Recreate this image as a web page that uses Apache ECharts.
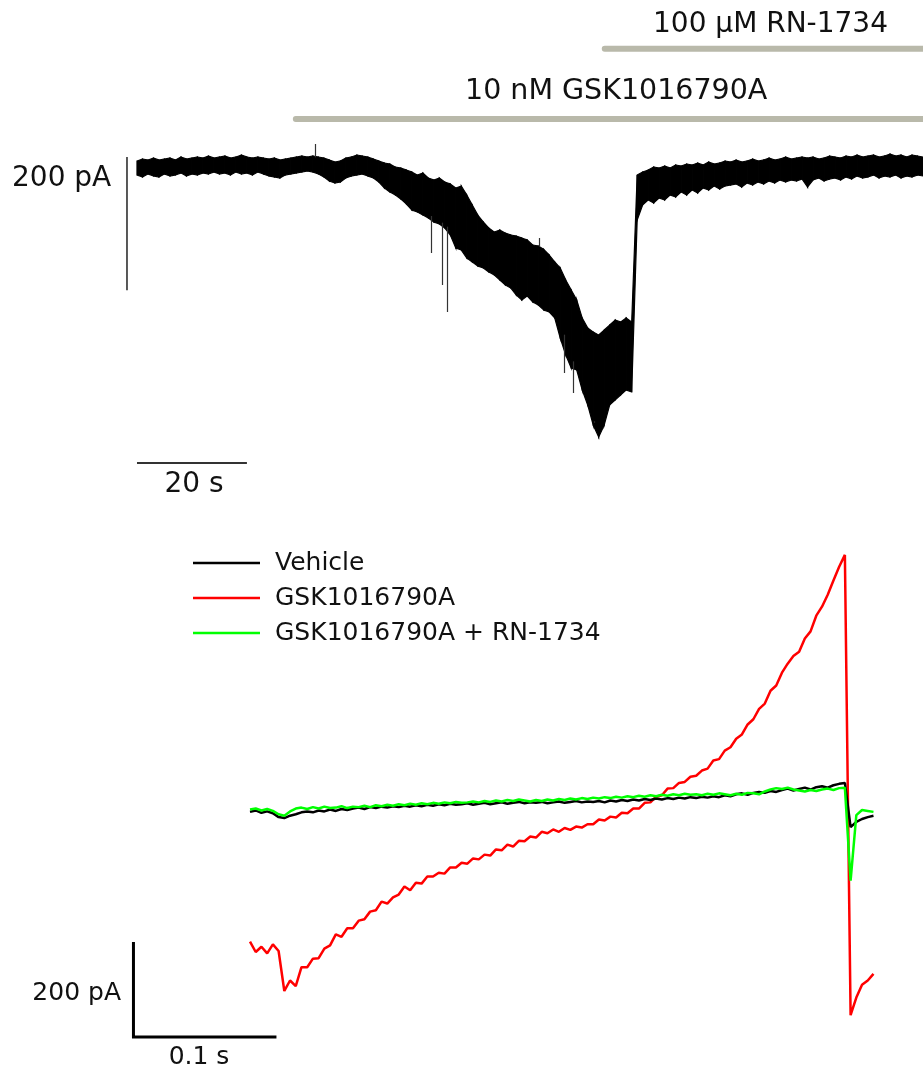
<!DOCTYPE html>
<html>
<head>
<meta charset="utf-8">
<script src="https://cdn.jsdelivr.net/npm/echarts@6/dist/echarts.min.js"></script>
<style>
html,body{margin:0;padding:0;background:#fff;}
#chart{width:923px;height:1071px;}
</style>
</head>
<body>
<div id="chart"></div>
<script>
// ---------- Top panel: holding current vs time (s), current in pA (relative to baseline) ----------
// noise envelope of the trace, read every 1 s (upper and lower edge of the noisy band)
const traceHi = [10.5,13.5,12,15,12,13.5,15,12,16.5,13.5,15,16.5,15,18,15,16.5,18,15,16.5,19.5,
16.5,15,16.5,15,13.5,15,12,13.5,15,16.5,18,16.5,18,16.5,15,12,9,10.5,15,16.5,
19.5,18,16.5,13.5,10.5,7.5,6,1.5,0,-3,-6,-10.5,-7.5,-15,-18,-15,-21,-24,-30,-27,
-40.5,-55.5,-70.5,-81,-90,-96,-93,-97.5,-100.5,-102,-105,-108,-115.5,-117,-122,-130.5,-141,-150,-168,-183,
-198,-225,-240,-246,-250.5,-243,-235.5,-228,-231,-225,-231,-10.5,-6,-3,1.5,0,3,0,4.5,3,
6,4.5,7.5,4.5,9,6,7.5,10.5,9,12,9,10.5,13.5,10.5,12,15,12,13.5,16.5,13.5,
15,16.5,15,16.5,13.5,15,18,16.5,15,18,16.5,19.5,16.5,18,19.5,16.5,18,21,18,19.5,
16.5,19.5,18,16.5];
const traceLo = [-10.5,-13.5,-9,-12,-13.5,-9,-12,-10.5,-7.5,-12,-9,-10.5,-7.5,-9,-6,-9,-7.5,-10.5,-6,-9,
-7.5,-10.5,-6,-9,-12,-13.5,-15,-10.5,-9,-7.5,-6,-4.5,-6,-9,-13.5,-19.5,-22.5,-21,-15,-12,
-10.5,-9,-12,-15,-21,-30,-36,-40.5,-46.5,-54,-63,-66,-70.5,-75,-81,-84,-90,-100.5,-120,-123,
-135,-141,-147,-150,-156,-160.5,-168,-175.5,-180,-190.5,-198,-192,-201,-205.5,-213,-216,-225,-255,-280.5,-300,
-303,-333,-355.5,-385.5,-403.5,-385.5,-355.5,-348,-340.5,-333,-336,-78,-55.5,-48,-52.5,-45,-48,-40.5,-43.5,-36,
-40.5,-33,-37.5,-30,-33,-27,-31.5,-27,-25.5,-24,-28.5,-22.5,-25.5,-21,-24,-19.5,-22.5,-18,-21,-18,
-19.5,-16.5,-28.5,-18,-15,-19.5,-16.5,-15,-18,-13.5,-16.5,-12,-15,-13.5,-10.5,-15,-12,-13.5,-10.5,-15,
-12,-13.5,-10.5,-12];
// isolated spikes: [time s, from pA, to pA]
const traceSpikes = [[32.5,16,36],[53.5,-72,-127.5],[55.6,-82,-175.5],[56.5,-88,-216],
[73.2,-118,-105],[77.8,-250,-307.5],[79.3,-290,-337.5],[83.2,-380,-382]];
const drugGsk = {name:'10 nM GSK1016790A', start:28.9, end:143, level:73.5};
const drugRn  = {name:'100 µM RN-1734',   start:85.1, end:143, level:179};

// ---------- Bottom panel: ramp currents, sampled every 4 ms (pA) ----------
const rampStep = 0.004;
const vehicle = [-25,-22,-27,-24,-28,-36,-38,-33,-30,-26,
-24,-26,-22,-24,-20,-23,-19,-21,-18,-16,
-19,-15,-17,-14,-16,-13,-15,-12,-14,-11,
-13,-10,-12,-9,-11,-8,-10,-9,-7,-10,
-8,-6,-9,-7,-5,-8,-6,-4,-7,-5,
-6,-4,-7,-5,-3,-6,-4,-2,-5,-3,
-4,-2,-5,-1,-3,0,-2,1,-1,2,
0,3,1,4,2,5,3,6,4,7,
5,8,6,10,8,12,14,11,15,17,
15,19,17,21,24,20,23,26,22,27,
29,26,31,34,36,-57,-46,-40,-36,-33];
const gsk = [-298,-320,-309,-323,-304,-318,-402,-380,-392,-352,
-352,-334,-333,-313,-306,-283,-288,-270,-270,-254,
-251,-235,-232,-214,-218,-205,-199,-182,-190,-174,
-176,-161,-161,-153,-155,-142,-142,-132,-134,-123,
-125,-115,-117,-104,-106,-94,-98,-86,-87,-77,
-79,-67,-70,-62,-67,-59,-63,-56,-58,-51,
-51,-41,-43,-35,-37,-27,-28,-18,-18,-6,
-5,7,10,24,25,36,38,49,51,62,
66,83,86,104,111,129,138,159,170,192,
203,230,241,268,287,303,312,340,355,388,
407,432,462,491,516,-453,-416,-389,-380,-366];
const gskRn = [-20,-18,-22,-19,-23,-30,-33,-24,-18,-16,
-19,-15,-18,-14,-17,-16,-13,-17,-14,-15,
-12,-15,-11,-13,-10,-12,-9,-11,-8,-10,
-7,-9,-6,-8,-5,-7,-4,-6,-5,-3,
-5,-2,-4,-1,-3,0,-2,1,-1,-3,
0,-2,1,-1,2,0,3,1,4,2,
5,3,6,4,7,5,8,6,9,7,
10,8,11,9,12,10,13,11,12,10,
13,11,14,12,10,13,11,15,14,12,
18,22,25,23,26,22,20,18,21,19,
22,24,21,25,26,-170,-32,-21,-23,-25];
const legendNames = ['Vehicle','GSK1016790A','GSK1016790A + RN-1734'];

// scale bars (data units)
const topBarV = {t:-1.82, from:16.5, to:-183.5};      // 200 pA
const topBarH = {level:-442.5, from:0, to:20};        // 20 s
const botBar = {t:-0.0815, from:-299, to:-499, tEnd:0.0185}; // 200 pA, 0.1 s

// ---------- build ----------
// one quad per 1-s segment of the noise band: [t0, hi0, lo0, t1, hi1, lo1]
const bandSegs = traceHi.slice(0, -1).map((v, i) => [i, v, traceLo[i], i + 1, traceHi[i + 1], traceLo[i + 1]]);
const spikeLines = traceSpikes.map(s => [{coord:[s[0], s[1]]}, {coord:[s[0], s[2]]}]);
const ramp = arr => arr.map((v, i) => [i * rampStep, v]);

const FONT = 'DejaVu Sans';
const chart = echarts.init(document.getElementById('chart'), null, {renderer:'canvas'});
chart.setOption({
  animation: false,
  backgroundColor: '#fff',
  grid: [
    {left:120.5, width:803, top:34.67, height:440},
    {left:128.45, width:750.75, top:543.5, height:503.5}
  ],
  xAxis: [
    {type:'value', gridIndex:0, min:-3, max:143, show:false},
    {type:'value', gridIndex:1, min:-0.085, max:0.44, show:false}
  ],
  yAxis: [
    {type:'value', gridIndex:0, min:-460, max:200, show:false},
    {type:'value', gridIndex:1, min:-520, max:540, show:false}
  ],
  legend: {
    data: legendNames,
    orient: 'vertical',
    left: 193, top: 550.5, padding: 0,
    itemWidth: 67, itemHeight: 2.5, itemGap: 10,
    icon: 'rect',
    textStyle: {fontFamily: FONT, fontSize: 25, color:'#111', lineHeight: 25, padding:[0,0,0,10]}
  },
  series: [
    {type:'line', name:'drugGsk', xAxisIndex:0, yAxisIndex:0, symbol:'none', silent:true,
     data:[[drugGsk.start, drugGsk.level],[drugGsk.end, drugGsk.level]],
     lineStyle:{color:'#b9b9aa', width:6, cap:'round'}},
    {type:'line', name:'drugRn', xAxisIndex:0, yAxisIndex:0, symbol:'none', silent:true,
     data:[[drugRn.start, drugRn.level],[drugRn.end, drugRn.level]],
     lineStyle:{color:'#b9b9aa', width:6, cap:'round'}},
    {type:'custom', name:'trace', xAxisIndex:0, yAxisIndex:0, silent:true,
     data: bandSegs,
     encode: {x:[0,3], y:[1,2,4,5]},
     renderItem: function (params, api) {
       const a = api.coord([api.value(0), api.value(1)]);
       const b = api.coord([api.value(3), api.value(4)]);
       const c = api.coord([api.value(3), api.value(5)]);
       const d = api.coord([api.value(0), api.value(2)]);
       return {type:'polygon', shape:{points:[a, b, c, d]},
               style:{fill:'#000', stroke:'#000', lineWidth:1.2}};
     },
     markLine:{silent:true, symbol:'none', label:{show:false},
       lineStyle:{color:'#333', width:1.2, type:'solid'}, data: spikeLines}},
    {type:'line', name:'sbTopV', xAxisIndex:0, yAxisIndex:0, symbol:'none', silent:true,
     data:[[topBarV.t, topBarV.from],[topBarV.t, topBarV.to]], lineStyle:{color:'#222', width:1.5}},
    {type:'line', name:'sbTopH', xAxisIndex:0, yAxisIndex:0, symbol:'none', silent:true,
     data:[[topBarH.from, topBarH.level],[topBarH.to, topBarH.level]], lineStyle:{color:'#333', width:2}},
    {type:'line', name:'GSK1016790A', xAxisIndex:1, yAxisIndex:1, symbol:'none',
     data: ramp(gsk), lineStyle:{color:'#ff0000', width:2.5}, itemStyle:{color:'#ff0000'}},
    {type:'line', name:'Vehicle', xAxisIndex:1, yAxisIndex:1, symbol:'none',
     data: ramp(vehicle), lineStyle:{color:'#000000', width:2.5}, itemStyle:{color:'#000000'}},
    {type:'line', name:'GSK1016790A + RN-1734', xAxisIndex:1, yAxisIndex:1, symbol:'none',
     data: ramp(gskRn), lineStyle:{color:'#00ff00', width:2.5}, itemStyle:{color:'#00ff00'}},
    {type:'line', name:'sbBot', xAxisIndex:1, yAxisIndex:1, symbol:'none', silent:true,
     data:[[botBar.t, botBar.from],[botBar.t, botBar.to],[botBar.tEnd, botBar.to]],
     lineStyle:{color:'#000', width:3, join:'miter'}}
  ],
  graphic: [
    {type:'text', x:653, y:25, style:{text:drugRn.name, fontFamily:FONT, fontSize:28, fill:'#111', align:'left', verticalAlign:'middle'}},
    {type:'text', x:465, y:91.5, style:{text:drugGsk.name, fontFamily:FONT, fontSize:28.5, fill:'#111', align:'left', verticalAlign:'middle'}},
    {type:'text', x:12, y:179, style:{text:'200 pA', fontFamily:FONT, fontSize:28, fill:'#111', align:'left', verticalAlign:'middle'}},
    {type:'text', x:194, y:485, style:{text:'20 s', fontFamily:FONT, fontSize:28, fill:'#111', align:'center', verticalAlign:'middle'}},
    {type:'text', x:121, y:993, style:{text:'200 pA', fontFamily:FONT, fontSize:25, fill:'#111', align:'right', verticalAlign:'middle'}},
    {type:'text', x:199, y:1057, style:{text:'0.1 s', fontFamily:FONT, fontSize:25, fill:'#111', align:'center', verticalAlign:'middle'}}
  ]
});
</script>
</body>
</html>
